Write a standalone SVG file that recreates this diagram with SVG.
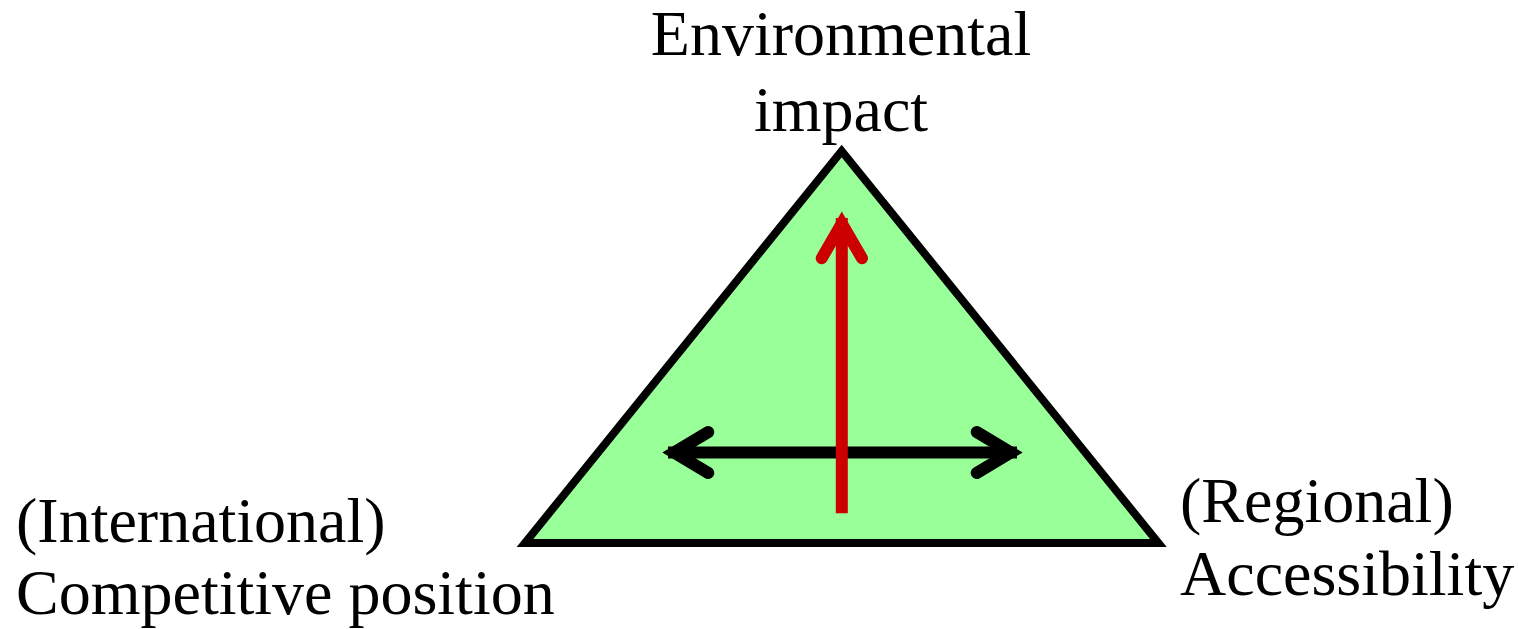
<svg xmlns="http://www.w3.org/2000/svg" width="1518" height="629" viewBox="0 0 1518 629">
  <style>
    .label { font-family: "Liberation Serif", "Times New Roman", serif; font-size: 64px; fill: #000000; }
    .tri { fill: #99FF99; stroke: #000000; stroke-width: 8; stroke-linejoin: miter; }
    .shaft-black { stroke: #000000; stroke-width: 12; fill: none; stroke-linecap: butt; }
    .head-black { stroke: #000000; stroke-width: 12; fill: none; stroke-linecap: round; stroke-linejoin: miter; }
    .shaft-red { stroke: #CC0000; stroke-width: 12; fill: none; stroke-linecap: butt; }
    .head-red { stroke: #CC0000; stroke-width: 12; fill: none; stroke-linecap: round; stroke-linejoin: miter; }
  </style>

  <!-- the triangle -->
  <g id="triangle">
    <polygon class="tri" points="841.7,151 525,543 1158.4,543"/>
  </g>

  <!-- corner labels -->
  <g id="node-environment">
    <text class="label" x="841" y="55" text-anchor="middle">Environmental</text>
    <text class="label" x="841" y="131" text-anchor="middle">impact</text>
  </g>
  <g id="node-competitive">
    <text class="label" x="16" y="542">(International)</text>
    <text class="label" x="16" y="614">Competitive position</text>
  </g>
  <g id="node-accessibility">
    <text class="label" x="1180" y="522">(Regional)</text>
    <text class="label" x="1180" y="595">Accessibility</text>
  </g>

  <!-- arrows inside the triangle -->
  <g id="connectors">
    <!-- horizontal double arrow -->
    <line class="shaft-black" x1="668" y1="452.5" x2="1017" y2="452.5"/>
    <polyline class="head-black" points="708.3,432 674,452.5 708.3,473"/>
    <polyline class="head-black" points="976.7,432 1011,452.5 976.7,473"/>
    <!-- vertical red arrow -->
    <line class="shaft-red" x1="841.8" y1="513.3" x2="841.8" y2="218"/>
    <polyline class="head-red" points="821.7,258.3 841.8,223.5 862,258.3"/>
  </g>
</svg>
